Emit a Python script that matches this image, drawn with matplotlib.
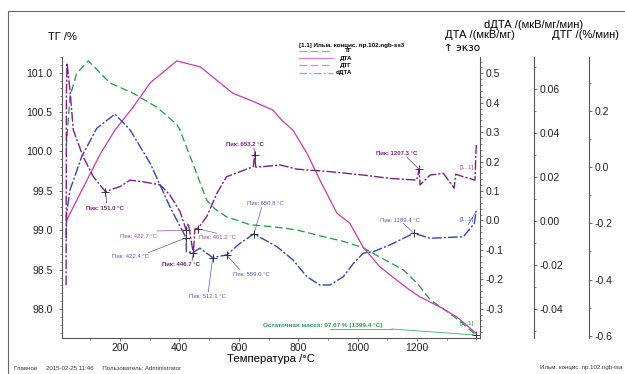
import numpy as np
import matplotlib
matplotlib.use("Agg")
import matplotlib.pyplot as plt
from matplotlib.lines import Line2D
from matplotlib.ticker import MultipleLocator, FixedLocator, FormatStrFormatter

plt.rcParams['font.family'] = ['Liberation Sans', 'DejaVu Sans']
plt.rcParams['axes.unicode_minus'] = False

# ---- values ----
# ТГ, %
tg_T = [19, 22, 31.6, 54, 93, 166, 244, 325, 392, 402, 445, 492, 520, 559, 600, 638,
        700, 749, 800, 863, 951, 1018, 1075, 1153, 1200, 1244, 1301, 1350, 1399.4]
tg = [100.05, 100.2, 100.70, 100.99, 101.15, 100.87, 100.74, 100.56, 100.34, 100.27, 99.85,
      99.38, 99.27, 99.17, 99.12, 99.07, 99.05, 99.03, 99.0, 98.94, 98.86, 98.78, 98.66,
      98.50, 98.33, 98.12, 97.97, 97.83, 97.67]

# ДТА, мкВ/мг
dta_T = [19, 20.5, 133, 183, 244, 301, 391, 470, 580, 638, 715, 744, 782, 829, 873,
         930, 974, 1018, 1075, 1132, 1176, 1210, 1277, 1334, 1399.4]
dta = [-0.01, 0.001, 0.225, 0.307, 0.385, 0.467, 0.542, 0.522, 0.432, 0.409, 0.375,
       0.341, 0.307, 0.229, 0.137, 0.025, -0.010, -0.090, -0.158, -0.203, -0.237,
       -0.260, -0.294, -0.328, -0.384]

# ДТГ, %/мин
dtg_T = [18.5, 19.5, 21.5, 31.6, 42.8, 76, 110, 151.0, 200, 234, 278, 335, 368, 402,
         422.7, 430, 446.7, 452, 461.2, 492, 526, 559, 604, 649, 653.2, 657, 682, 739,
         795, 907, 1019, 1109, 1199, 1207.3, 1210, 1244, 1289, 1325, 1330, 1356, 1395, 1399.4]
dtg = [-0.42, 0.25, 0.371, 0.275, 0.132, 0.037, -0.034, -0.087, -0.069, -0.046, -0.052,
       -0.063, -0.099, -0.158, -0.224, -0.20, -0.307, -0.22, -0.219, -0.176, -0.093,
       -0.034, -0.016, 0.002, 0.043, 0.0, 0.002, 0.008, -0.007, -0.016, -0.028, -0.040,
       -0.046, -0.008, -0.063, -0.028, -0.022, -0.075, -0.025, -0.034, -0.046, 0.079]

# dДТА, мкВ/мг/мин
ddta_T = [19, 20.5, 31.6, 71, 121.5, 183, 234, 301, 368, 422.4, 423.5, 446, 469, 512.1,
          559.0, 604, 650.8, 728, 783, 829, 873, 907, 952, 986, 1019, 1053, 1109,
          1189.4, 1244, 1356, 1393, 1399.4]
ddta = [-0.008, 0.0036, 0.0141, 0.0293, 0.0422, 0.0487, 0.0415, 0.0264, 0.0065, -0.0077,
        -0.0140, -0.0144, -0.0124, -0.0167, -0.0155, -0.0102, -0.0059, -0.0117, -0.0178,
        -0.0254, -0.0292, -0.0292, -0.0254, -0.0193, -0.0147, -0.0140, -0.0109, -0.0056,
        -0.0079, -0.0072, -0.0011, 0.0045]

dtg_peaks = [151.0, 422.7, 446.7, 461.2, 653.2, 1207.3]
ddta_peaks = [422.4, 512.1, 559.0, 650.8, 1189.4]
residual = (1399.4, 97.67)

C_TG = '#1e9a3c'
C_DTA = '#c43cae'
C_DTG = '#7d1f86'
C_DDTA = '#3148a8'

W, H = 625, 374
fig = plt.figure(figsize=(W / 100, H / 100), dpi=100)


def fx(x):
    return x / W


def fy(y):
    return 1 - y / H


def fp(x, y):
    # figure pixels, origin bottom-left
    return (x, H - y)


L, R, T, B = 62.3, 480, 56.7, 337.7
ax = fig.add_axes([fx(L), fy(B), fx(R) - fx(L), fy(T) - fy(B)])
ax.patch.set_alpha(0)
ax2 = ax.twinx()
ax3 = ax.twinx()
ax4 = ax.twinx()

ax.set_xlim(5.7, 1412)
ax.set_ylim(97.637, 101.203)
ax2.set_ylim(-0.3986, 0.5564)
ax3.set_ylim(-0.05322, 0.07486)
ax4.set_ylim(-0.6071, 0.3933)

spc = '#555555'
for a in (ax, ax2, ax3, ax4):
    for s in a.spines.values():
        s.set_visible(False)
        s.set_color(spc)
        s.set_linewidth(0.8)
ax.spines['left'].set_visible(True)
ax.spines['bottom'].set_visible(True)
ax2.spines['right'].set_visible(True)
ax3.spines['right'].set_visible(True)
ax4.spines['right'].set_visible(True)
ax3.spines['right'].set_position(('axes', (534.3 - L) / (R - L)))
ax4.spines['right'].set_position(('axes', (589.3 - L) / (R - L)))

ax.xaxis.set_major_locator(FixedLocator([200, 400, 600, 800, 1000, 1200]))
ax.xaxis.set_minor_locator(FixedLocator([100, 300, 500, 700, 900, 1100, 1300, 1400]))
ax.yaxis.set_major_locator(MultipleLocator(0.5))
ax.yaxis.set_minor_locator(MultipleLocator(0.1))
ax.yaxis.set_major_formatter(FormatStrFormatter('%.1f'))
ax2.yaxis.set_major_locator(MultipleLocator(0.1))
ax2.yaxis.set_minor_locator(MultipleLocator(0.02))
ax2.yaxis.set_major_formatter(FormatStrFormatter('%.1f'))
ax3.yaxis.set_major_locator(MultipleLocator(0.02))
ax3.yaxis.set_minor_locator(MultipleLocator(0.01))
ax3.yaxis.set_major_formatter(FormatStrFormatter('%.2f'))
ax4.yaxis.set_major_locator(MultipleLocator(0.2))
ax4.yaxis.set_minor_locator(MultipleLocator(0.1))
ax4.yaxis.set_major_formatter(FormatStrFormatter('%.1f'))

ax.tick_params(axis='both', which='major', direction='out', length=2.5, width=0.6,
               color=spc, labelsize=7.5, labelcolor='#222222')
ax.tick_params(axis='both', which='minor', direction='out', length=1.5, width=0.5, color=spc)
ax.tick_params(axis='y', pad=4.5)
ax.tick_params(axis='x', pad=1.0)
for a in (ax2, ax3, ax4):
    a.tick_params(axis='y', which='major', direction='out', length=2.5, width=0.6,
                  color=spc, labelsize=7.5, labelcolor='#222222', pad=1.5)
    a.tick_params(axis='y', which='minor', direction='out', length=1.5, width=0.5, color=spc)

# curves
ax.plot(tg_T, tg, color=C_TG, lw=0.9, ls=(0, (6, 3)), zorder=3)
ax2.plot(dta_T, dta, color=C_DTA, lw=0.9, zorder=3)
ax4.plot(dtg_T, dtg, color=C_DTG, lw=1.0, ls=(0, (7, 1.5, 1.5, 1.5)), zorder=3)
ax3.plot(ddta_T, ddta, color=C_DDTA, lw=1.0, ls=(0, (7, 1.5, 1.5, 1.5)), zorder=3)


def mark(axis, x, y, px_end, text, tpos, color, bold=False):
    axis.plot([x], [y], marker='+', ms=6, mew=0.7, color='#333333', zorder=5)
    axis.annotate('', xy=(x, y), xycoords='data', xytext=fp(*px_end),
                  textcoords='figure pixels',
                  arrowprops=dict(arrowstyle='-', lw=0.5, color=color,
                                  shrinkA=0, shrinkB=0))
    fig.text(fx(tpos[0]), fy(tpos[1]), text, ha='center', va='center', fontsize=4.3,
             color=color, fontweight='bold' if bold else 'normal')


P_B = C_DTG
P_L = '#a04cb0'
B_L = '#4d5fc0'
dtg_lab = [((106.7, 203), (105, 208), P_B, True),
           ((157, 231), (139, 236), P_L, False),
           ((192, 261), (180.5, 265), P_B, True),
           ((216.7, 233.3), (217, 237.5), P_L, False),
           ((254, 148), (245, 144), P_B, True),
           ((407, 157.3), (397, 153.3), P_B, True)]
for t, (pe, tp, c, b) in zip(dtg_peaks, dtg_lab):
    v = np.interp(t, dtg_T, dtg)
    mark(ax4, t, v, pe, 'Пик: %.1f °C' % t, tp, c, b)

ddta_lab = [((148.3, 252.7), (131, 256)),
            ((208.3, 291.7), (207.5, 296.7)),
            ((240, 270), (251.7, 274)),
            ((261.7, 207.5), (265, 204)),
            ((403.3, 223.3), (400, 220))]
for t, (pe, tp) in zip(ddta_peaks, ddta_lab):
    v = np.interp(t, ddta_T, ddta)
    mark(ax3, t, v, pe, 'Пик: %.1f °C' % t, tp, B_L, False)

# residual mass
ax.plot([residual[0]], [residual[1]], marker='+', ms=6, mew=0.7, color='#333333', zorder=5)
ax.annotate('', xy=residual, xycoords='data', xytext=fp(392, 329), textcoords='figure pixels',
            arrowprops=dict(arrowstyle='-', lw=0.6, color='#3fae62', shrinkA=0, shrinkB=0))
fig.add_artist(Line2D([fx(330), fx(392)], [fy(329), fy(329)], lw=0.6, color='#3fae62'))
fig.text(fx(263), fy(325), 'Остаточная масса: %.2f %% (%.1f °C)' % (residual[1], residual[0]),
         ha='left', va='center', fontsize=4.6, color='#28a050', fontweight='bold')

# [1.1] end labels
fig.text(fx(467), fy(168), '[1..1]', ha='center', va='center', fontsize=4.6, color='#a04cb0')
fig.text(fx(467), fy(220), '[1..1]', ha='center', va='center', fontsize=4.6, color=B_L)
fig.text(fx(467), fy(324), '[1..1]', ha='center', va='center', fontsize=4.6, color='#28a050')
ax3.annotate('', xy=(ddta_T[-1], ddta[-1]), xytext=fp(468, 225), textcoords='figure pixels',
             arrowprops=dict(arrowstyle='-', lw=0.5, color=B_L, shrinkA=0, shrinkB=0))

# axis titles
fig.text(fx(62), fy(37), 'ТГ /%', ha='center', va='center', fontsize=8)
fig.text(fx(534), fy(25), 'dДТА /(мкВ/мг/мин)', ha='center', va='center', fontsize=8)
fig.text(fx(480), fy(35), 'ДТА /(мкВ/мг)', ha='center', va='center', fontsize=8)
fig.text(fx(586), fy(35), 'ДТГ /(%/мин)', ha='center', va='center', fontsize=8)
fig.text(fx(444), fy(48), '↑ экзо', ha='left', va='center', fontsize=7.5,
         family=['DejaVu Sans'])
fig.text(fx(271), fy(359), 'Температура /°C', ha='center', va='center', fontsize=8.2)

# legend block
fig.text(fx(299), fy(45), '[1.1] Ильм. концис. пр.102.ngb-ss3', ha='left', va='center',
         fontsize=4.5, fontweight='bold')
leg = [('ТГ', '#6fc28a', (0, (6, 3))), ('ДТА', '#e07ad0', '-'),
       ('ДТГ', '#d88ad8', (0, (6, 3))), ('dДТА', '#8fa0e0', (0, (6, 2, 1.5, 2)))]
for i, (name, c, ls) in enumerate(leg):
    yy = 51 + i * 7.2
    fig.add_artist(Line2D([fx(299), fx(333)], [fy(yy), fy(yy)], lw=0.9, color=c, ls=ls))
    fig.text(fx(352), fy(yy), name, ha='right', va='center', fontsize=4.5, fontweight='bold')

# footer
fig.text(fx(14), fy(368), 'Главное     2015-02-25 11:46     Пользователь: Administrator',
         ha='left', va='center', fontsize=4.4, color='#333333')
fig.text(fx(540), fy(368), 'Ильм. концис. пр.102.ngb-tsa', ha='left', va='center',
         fontsize=4.4, color='#333333')

# outer frame
fig.add_artist(Line2D([fx(7.5), fx(7.5), 1.0], [0.0, fy(11), fy(11)], lw=0.8, color='#666666'))

fig.savefig('out.png', dpi=100)
